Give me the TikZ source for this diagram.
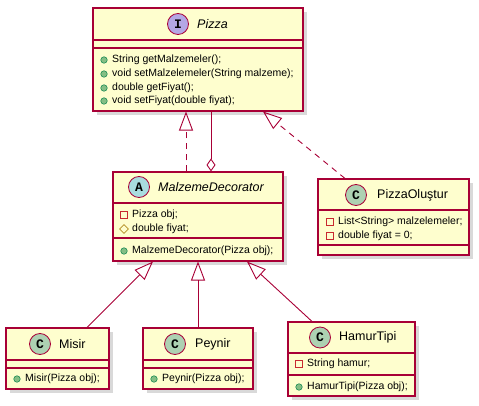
\documentclass[tikz,border=0pt]{standalone}
\usepackage{fontspec}
\setmainfont{Liberation Sans}
\newfontfamily\iconfont{Liberation Mono}
\usetikzlibrary{shadows,arrows.meta,calc,shapes.geometric}
\definecolor{boxfill}{HTML}{FEFECE}
\definecolor{boxline}{HTML}{A80036}
\definecolor{icI}{HTML}{B4A7E5}
\definecolor{icA}{HTML}{A9DCDF}
\definecolor{icC}{HTML}{ADD1B2}
\definecolor{pubfill}{HTML}{84BE84}
\definecolor{publine}{HTML}{038048}
\definecolor{privline}{HTML}{C82930}
\definecolor{protline}{HTML}{B38D22}
\tikzset{
  cls/.style={draw=boxline, fill=boxfill, line width=1.1pt, inner sep=0pt,
    drop shadow={shadow xshift=4pt, shadow yshift=-4pt, opacity=0.25, fill=black!60}},
  sep/.style={draw=boxline, line width=1.1pt},
  icon/.style={circle, draw=boxline, line width=0.8pt, minimum size=21pt, inner sep=0pt,
    font=\iconfont\bfseries\fontsize{13}{13}\selectfont},
  ttl/.style={anchor=west, inner sep=0pt, font=\fontsize{12.5}{14}\selectfont},
  mem/.style={anchor=west, inner sep=0pt, font=\fontsize{10.5}{12}\selectfont},
  pub/.style={circle, fill=pubfill, draw=publine, line width=0.5pt, minimum size=6.5pt, inner sep=0pt},
  priv/.style={rectangle, draw=privline, line width=0.8pt, minimum size=6.5pt, inner sep=0pt},
  prot/.style={diamond, draw=protline, line width=0.7pt, minimum size=9pt, inner sep=0pt},
  conn/.style={draw=boxline, line width=0.9pt},
  realize/.style={conn, dash pattern=on 6pt off 5pt, -{Triangle[open, length=19pt, width=14pt, line width=0.9pt]}},
  inherit/.style={conn, -{Triangle[open, length=19pt, width=14pt, line width=0.9pt]}},
  aggr/.style={conn, -{Diamond[open, length=13pt, width=9pt, line width=0.9pt]}}
}
\begin{document}
\begin{tikzpicture}[x=1pt,y=-1pt]
\useasboundingbox (0,0) rectangle (479,406);
% Pizza
\node[cls, minimum width=210pt, minimum height=103pt] (pizza) at (198,59.5) {};
\draw[sep] (93,40) -- (303,40);
\draw[sep] (93,48) -- (303,48);
\node[icon, fill=icI] (pizzaic) at (178,24) {I};
\node[ttl, font=\fontsize{12.5}{14}\selectfont\itshape] (pizzat) at (197,24) {Pizza};
\node[pub] (p1) at (104,60) {}; \node[mem] (m1) at (112,60) {String getMalzemeler();};
\node[pub] (p2) at (104,74) {}; \node[mem] (m2) at (112,74) {void setMalzelemeler(String malzeme);};
\node[pub] (p3) at (104,88) {}; \node[mem] (m3) at (112,88) {double getFiyat();};
\node[pub] (p4) at (104,101) {}; \node[mem] (m4) at (112,101) {void setFiyat(double fiyat);};
% MalzemeDecorator
\node[cls, minimum width=170pt, minimum height=89pt] (md) at (198,216.5) {};
\draw[sep] (113,203) -- (283,203);
\draw[sep] (113,238) -- (283,238);
\node[icon, fill=icA] (mdic) at (139,187) {A};
\node[ttl, font=\fontsize{12.5}{14}\selectfont\itshape] (mdt) at (158,187) {MalzemeDecorator};
\node[priv] (q1) at (124,215) {}; \node[mem] (n1) at (132,215) {Pizza obj;};
\node[prot] (q2) at (124,229) {}; \node[mem] (n2) at (132,229) {double fiyat;};
\node[pub] (q3) at (124,251) {}; \node[mem] (n3) at (132,251) {MalzemeDecorator(Pizza obj);};
% PizzaOlustur
\node[cls, minimum width=151pt, minimum height=76pt] (po) at (393.5,217) {};
\draw[sep] (318,210) -- (469,210);
\draw[sep] (318,245) -- (469,245);
\node[icon, fill=icC] (poic) at (356,195) {C};
\node[ttl] (pot) at (377,195) {PizzaOluştur};
\node[priv] (r1) at (330,222) {}; \node[mem] (o1) at (338,222) {List<String> malzelemeler;};
\node[priv] (r2) at (330,236) {}; \node[mem] (o2) at (338,236) {double fiyat = 0;};
% Misir
\node[cls, minimum width=103pt, minimum height=61pt] (misir) at (57.5,358.5) {};
\draw[sep] (6,360) -- (109,360);
\draw[sep] (6,368) -- (109,368);
\node[icon, fill=icC] (miic) at (40,344) {C};
\node[ttl] (mit) at (59,344) {Misir};
\node[pub] (s1) at (17,379) {}; \node[mem] (t1) at (25,379) {Misir(Pizza obj);};
% Peynir
\node[cls, minimum width=110pt, minimum height=61pt] (peynir) at (198,358.5) {};
\draw[sep] (143,360) -- (253,360);
\draw[sep] (143,368) -- (253,368);
\node[icon, fill=icC] (peic) at (175,344) {C};
\node[ttl] (pet) at (195,344) {Peynir};
\node[pub] (u1) at (154,379) {}; \node[mem] (v1) at (162,379) {Peynir(Pizza obj);};
% HamurTipi
\node[cls, minimum width=127pt, minimum height=74pt] (hamur) at (351.5,359) {};
\draw[sep] (288,353) -- (415,353);
\draw[sep] (288,375) -- (415,375);
\node[icon, fill=icC] (haic) at (320,337.5) {C};
\node[ttl] (hat) at (339,337.5) {HamurTipi};
\node[priv] (w1) at (299,364) {}; \node[mem] (x1) at (307,364) {String hamur;};
\node[pub] (w2) at (299,387) {}; \node[mem] (x2) at (307,387) {HamurTipi(Pizza obj);};
% connectors
\draw[realize] ($(md.north)+(-12,0)$) -- ($(pizza.south)+(-12,0)$);
\draw[aggr] ($(pizza.south)+(13,0)$) -- ($(md.north)+(13,0)$);
\draw[realize] ($(po.north)+(-48.5,0)$) -- ($(pizza.south)+(65,0)$);
\draw[inherit] ($(misir.north)+(29.5,0)$) -- ($(md.south)+(-45,0)$);
\draw[inherit] (peynir.north) -- (md.south);
\draw[inherit] ($(hamur.north)+(-39.5,0)$) -- ($(md.south)+(49,0)$);
\end{tikzpicture}
\end{document}
